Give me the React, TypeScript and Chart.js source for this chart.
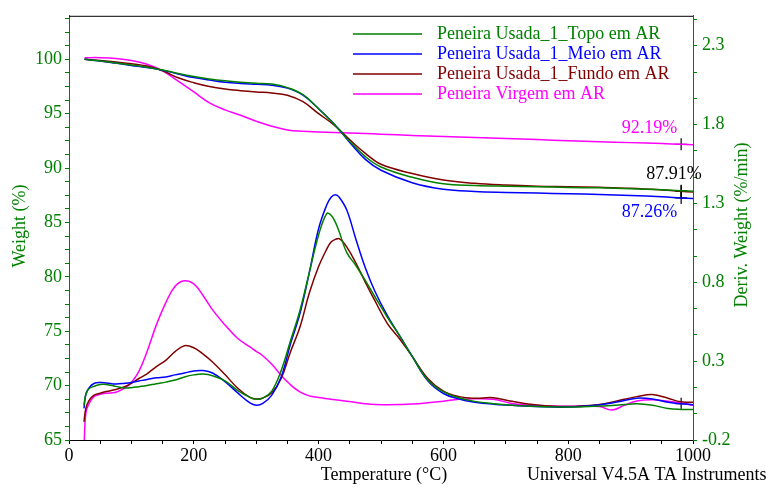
import React, { useEffect, useRef } from "react";
import { Chart, registerables } from "chart.js";

Chart.register(...registerables);

// ---- Series names and colours ----
const SERIES_NAMES = [
  "Peneira Usada_1_Topo em AR",
  "Peneira Usada_1_Meio em AR",
  "Peneira Usada_1_Fundo em AR",
  "Peneira Virgem em AR",
];
const SERIES_COLORS = ["#008000", "#0000ff", "#800000", "#ff00ff"];
const AXIS_GREEN = "#008000";

// ---- Weight (%) vs temperature (°C) ----
const weightTemps = [25, 50, 75, 100, 125, 150, 175, 200, 225, 250, 275, 300, 325, 350, 375, 400, 425, 450, 475, 500, 550, 600, 650, 700, 750, 800, 850, 900, 950, 980, 1000];
const weightTopo = [100.0, 99.85, 99.67, 99.47, 99.27, 99.02, 98.7, 98.42, 98.2, 98.03, 97.9, 97.8, 97.72, 97.4, 96.75, 95.45, 94.0, 92.45, 91.05, 90.1, 89.15, 88.55, 88.4, 88.33, 88.28, 88.22, 88.18, 88.1, 88.0, 87.91, 87.88];
const weightMeio = [100.0, 99.85, 99.65, 99.44, 99.24, 99.0, 98.65, 98.32, 98.1, 97.9, 97.78, 97.7, 97.62, 97.35, 96.7, 95.45, 94.05, 92.35, 90.8, 89.8, 88.65, 88.05, 87.85, 87.76, 87.7, 87.64, 87.57, 87.48, 87.36, 87.26, 87.2];
const weightFundo = [100.0, 99.88, 99.76, 99.6, 99.38, 98.95, 98.3, 97.85, 97.5, 97.27, 97.12, 97.0, 96.9, 96.7, 96.1, 95.0, 93.95, 92.6, 91.35, 90.35, 89.5, 88.9, 88.6, 88.44, 88.34, 88.29, 88.23, 88.14, 87.99, 87.87, 87.79];
const weightVirgem = [100.15, 100.15, 100.08, 99.9, 99.55, 98.95, 98.0, 97.0, 96.0, 95.35, 94.85, 94.3, 93.85, 93.5, 93.38, 93.32, 93.27, 93.22, 93.18, 93.12, 93.0, 92.9, 92.82, 92.72, 92.62, 92.52, 92.43, 92.34, 92.25, 92.19, 92.15];

// ---- Derivative weight (%/min) vs temperature (°C) ----
const derivTemps = [24, 27, 32, 40, 50, 60, 75, 90, 100, 112, 125, 140, 155, 170, 185, 200, 215, 230, 250, 270, 290, 300, 310, 325, 340, 355, 370, 385, 400, 413, 420, 427, 433, 445, 460, 475, 490, 510, 530, 550, 575, 600, 625, 650, 680, 710, 750, 800, 850, 870, 890, 910, 935, 960, 980, 1000];
const derivTopo = [0.02, 0.09, 0.125, 0.14, 0.152, 0.152, 0.14, 0.13, 0.132, 0.138, 0.145, 0.157, 0.167, 0.18, 0.2, 0.213, 0.218, 0.208, 0.175, 0.115, 0.07, 0.058, 0.065, 0.11, 0.24, 0.43, 0.62, 0.86, 1.1, 1.236, 1.225, 1.18, 1.12, 0.99, 0.905, 0.81, 0.71, 0.58, 0.46, 0.33, 0.18, 0.105, 0.068, 0.045, 0.03, 0.02, 0.012, 0.009, 0.015, 0.018, 0.025, 0.03, 0.02, 0.0, -0.006, -0.007];
const derivMeio = [0.0, 0.09, 0.13, 0.158, 0.165, 0.162, 0.155, 0.16, 0.165, 0.174, 0.184, 0.194, 0.2, 0.213, 0.225, 0.238, 0.24, 0.225, 0.17, 0.1, 0.035, 0.02, 0.03, 0.085, 0.2, 0.41, 0.6, 0.86, 1.14, 1.29, 1.34, 1.356, 1.34, 1.26, 1.07, 0.89, 0.745, 0.59, 0.46, 0.33, 0.175, 0.095, 0.06, 0.04, 0.027, 0.02, 0.012, 0.009, 0.023, 0.035, 0.05, 0.065, 0.06, 0.04, 0.03, 0.024];
const derivFundo = [-0.085, 0.0, 0.05, 0.085, 0.097, 0.107, 0.12, 0.14, 0.16, 0.19, 0.22, 0.265, 0.305, 0.36, 0.398, 0.385, 0.345, 0.295, 0.215, 0.13, 0.07, 0.06, 0.065, 0.1, 0.19, 0.36, 0.515, 0.73, 0.9, 1.01, 1.055, 1.072, 1.077, 1.025, 0.92, 0.8, 0.685, 0.54, 0.44, 0.33, 0.19, 0.11, 0.075, 0.065, 0.068, 0.045, 0.022, 0.012, 0.025, 0.04, 0.058, 0.075, 0.088, 0.065, 0.042, 0.04];
const derivVirgem = [-0.25, -0.03, 0.03, 0.075, 0.09, 0.097, 0.103, 0.13, 0.165, 0.235, 0.36, 0.53, 0.67, 0.775, 0.81, 0.79, 0.715, 0.625, 0.53, 0.445, 0.39, 0.362, 0.336, 0.28, 0.21, 0.15, 0.105, 0.08, 0.07, 0.062, 0.058, 0.055, 0.052, 0.046, 0.038, 0.03, 0.025, 0.024, 0.025, 0.028, 0.036, 0.046, 0.058, 0.062, 0.058, 0.032, 0.018, 0.014, 0.013, -0.01, 0.02, 0.047, 0.055, 0.045, 0.034, 0.02];

// ---- Residue markers at the end of the run ----
const residueTemp = 981;
const residueVirgem = 92.19;
const residueTopo = 87.91;
const residueFundo = 87.87;
const residueMeio = 87.26;
const derivMarker = 0.03;

// ---- Axis ticks ----
const xTicks = Array.from({ length: 21 }, (_, i) => i * 50);
const xLabelled = [0, 200, 400, 600, 800, 1000];
const weightTicks = Array.from({ length: 32 }, (_, i) => 65 + i * 1.25);
const weightLabelled = [65, 70, 75, 80, 85, 90, 95, 100];
const derivTicks = Array.from({ length: 17 }, (_, i) => -0.2 + i / 6);
const derivLabelled = ["-0.2", "0.3", "0.8", "1.3", "1.8", "2.3"];

const FONT = "Liberation Serif, 'Times New Roman', serif";

const toPoints = (xs: number[], ys: number[]) => xs.map((x, i) => ({ x, y: ys[i] }));

const overlay = {
  id: "overlay",
  afterDraw(chart: any) {
    const { ctx, chartArea, scales } = chart;
    const x = scales.x;
    const yW = scales.yW;
    ctx.save();

    // top frame line
    ctx.strokeStyle = "#000";
    ctx.lineWidth = 1;
    ctx.beginPath();
    ctx.moveTo(chartArea.left, chartArea.top + 0.5);
    ctx.lineTo(chartArea.right, chartArea.top + 0.5);
    ctx.stroke();

    ctx.font = `18px ${FONT}`;
    ctx.textBaseline = "middle";

    // legend
    SERIES_NAMES.forEach((name, i) => {
      const y = 34 + i * 20;
      ctx.strokeStyle = SERIES_COLORS[i];
      ctx.lineWidth = 1.5;
      ctx.beginPath();
      ctx.moveTo(353, y);
      ctx.lineTo(422, y);
      ctx.stroke();
      ctx.fillStyle = SERIES_COLORS[i];
      ctx.textAlign = "left";
      ctx.fillText(name, 437, y);
    });

    // residue labels
    const px = x.getPixelForValue(residueTemp);
    ctx.textAlign = "right";
    ctx.fillStyle = SERIES_COLORS[3];
    ctx.fillText(residueVirgem.toFixed(2) + "%", px - 4, yW.getPixelForValue(residueVirgem) - 16);
    ctx.fillStyle = "#000";
    ctx.textAlign = "left";
    ctx.fillText(residueTopo.toFixed(2) + "%", px - 35, yW.getPixelForValue(residueTopo) - 17);
    ctx.fillStyle = SERIES_COLORS[1];
    ctx.textAlign = "right";
    ctx.fillText(residueMeio.toFixed(2) + "%", px - 4, yW.getPixelForValue(residueMeio) + 14);

    // axis titles
    ctx.fillStyle = "#000";
    ctx.textAlign = "center";
    ctx.fillText("Temperature (°C)", 384, 475);
    ctx.textAlign = "left";
    ctx.fillText("Universal V4.5A TA Instruments", 527, 475);

    ctx.fillStyle = AXIS_GREEN;
    ctx.textAlign = "center";
    ctx.save();
    ctx.translate(20, 226);
    ctx.rotate(-Math.PI / 2);
    ctx.fillText("Weight (%)", 0, 0);
    ctx.restore();
    ctx.save();
    ctx.translate(742, 225);
    ctx.rotate(-Math.PI / 2);
    ctx.fillText("Deriv. Weight (%/min)", 0, 0);
    ctx.restore();

    ctx.restore();
  },
};

export default function App() {
  const canvasRef = useRef<HTMLCanvasElement>(null);

  useEffect(() => {
    const canvas = canvasRef.current;
    if (!canvas) return;

    const weightSeries = [weightTopo, weightMeio, weightFundo, weightVirgem];
    const derivSeries = [derivTopo, derivMeio, derivFundo, derivVirgem];

    const lineBase = {
      type: "line" as const,
      pointRadius: 0,
      borderWidth: 1.5,
      fill: false,
      tension: 0.4,
    };

    const datasets: any[] = [];
    weightSeries.forEach((ys, i) => {
      datasets.push({
        ...lineBase,
        label: SERIES_NAMES[i],
        data: toPoints(weightTemps, ys),
        borderColor: SERIES_COLORS[i],
        yAxisID: "yW",
      });
    });
    derivSeries.forEach((ys, i) => {
      datasets.push({
        ...lineBase,
        label: SERIES_NAMES[i] + " (deriv)",
        data: toPoints(derivTemps, ys),
        borderColor: SERIES_COLORS[i],
        yAxisID: "yD",
      });
    });
    datasets.push({
      type: "scatter",
      label: "residue",
      data: [residueVirgem, residueTopo, residueFundo, residueMeio].map((v) => ({ x: residueTemp, y: v })),
      pointStyle: "cross",
      pointRadius: 6,
      borderColor: "#000",
      borderWidth: 1.2,
      yAxisID: "yW",
    });
    datasets.push({
      type: "scatter",
      label: "residue deriv",
      data: [{ x: residueTemp, y: derivMarker }],
      pointStyle: "cross",
      pointRadius: 6,
      borderColor: "#000",
      borderWidth: 1.2,
      yAxisID: "yD",
    });

    const tickFont = { family: FONT, size: 18 };

    const chart = new Chart(canvas, {
      type: "line",
      data: { datasets },
      options: {
        animation: false,
        responsive: false,
        devicePixelRatio: 1,
        layout: { padding: { top: 12, left: 0, right: 0, bottom: 0 } },
        plugins: { legend: { display: false }, tooltip: { enabled: false } },
        scales: {
          x: {
            type: "linear",
            position: "bottom",
            min: 0,
            max: 1000,
            afterBuildTicks: (s: any) => {
              s.ticks = xTicks.map((v) => ({ value: v }));
            },
            afterFit: (s: any) => {
              s.height = 47;
            },
            ticks: {
              autoSkip: false,
              maxRotation: 0,
              padding: 1,
              color: "#000",
              font: tickFont,
              callback: (v: any) => (xLabelled.includes(Number(v)) ? String(v) : ""),
            },
            grid: { drawOnChartArea: false, drawTicks: true, tickLength: 4, color: "#000" },
            border: { display: true, color: "#000", width: 1 },
          },
          yW: {
            type: "linear",
            position: "left",
            min: 65,
            max: 104,
            afterBuildTicks: (s: any) => {
              s.ticks = weightTicks.map((v) => ({ value: v }));
            },
            afterFit: (s: any) => {
              s.width = 69;
            },
            ticks: {
              autoSkip: false,
              padding: 3,
              color: AXIS_GREEN,
              font: tickFont,
              callback: (v: any) => (weightLabelled.includes(Number(v)) ? String(v) : ""),
            },
            grid: { drawOnChartArea: false, drawTicks: true, tickLength: 4, color: AXIS_GREEN },
            border: { display: true, color: AXIS_GREEN, width: 1 },
          },
          yD: {
            type: "linear",
            position: "right",
            min: -0.2,
            max: 2.49,
            afterBuildTicks: (s: any) => {
              s.ticks = derivTicks.map((v) => ({ value: v }));
            },
            afterFit: (s: any) => {
              s.width = 73;
            },
            ticks: {
              autoSkip: false,
              padding: 5,
              color: AXIS_GREEN,
              font: tickFont,
              callback: (v: any) => {
                const t = Number(v).toFixed(1);
                return derivLabelled.includes(t) && Math.abs(Number(t) - Number(v)) < 1e-6 ? t : "";
              },
            },
            grid: { drawOnChartArea: false, drawTicks: true, tickLength: 4, color: AXIS_GREEN },
            border: { display: true, color: AXIS_GREEN, width: 1 },
          },
        },
      },
      plugins: [overlay],
    });

    return () => chart.destroy();
  }, []);

  return (
    <div style={{ position: "fixed", left: 0, top: 0, width: 766, height: 487, background: "#fff" }}>
      <canvas ref={canvasRef} width={766} height={487} style={{ width: 766, height: 487, display: "block" }} />
    </div>
  );
}
